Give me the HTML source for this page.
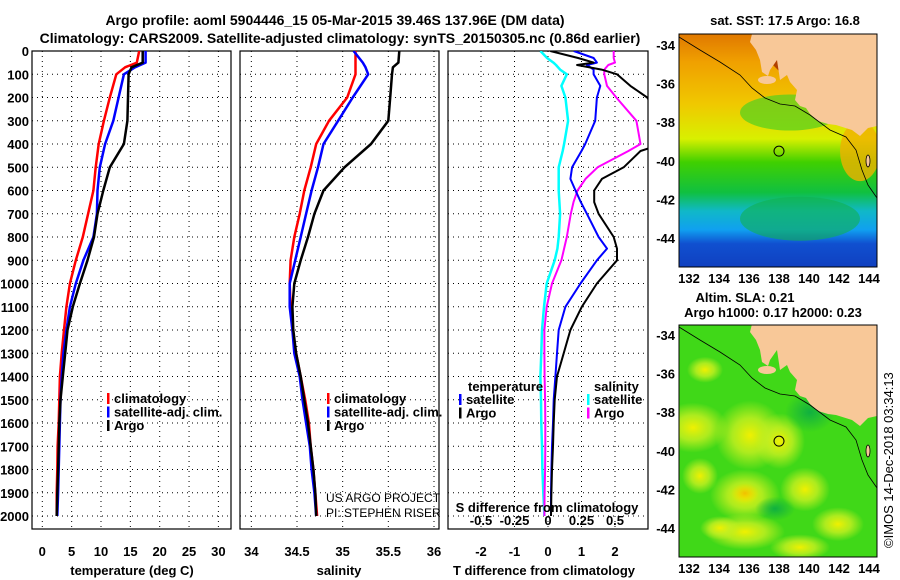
<!DOCTYPE html>
<html><head><meta charset="utf-8"><style>
body{margin:0;background:#fff}
svg{display:block;font-family:"Liberation Sans",sans-serif;font-weight:bold}
</style></head><body>
<svg id="c" width="900" height="580" viewBox="0 0 900 580">
<defs>
<clipPath id="cp1"><rect x="32" y="51" width="199" height="478"/></clipPath>
<clipPath id="cp2"><rect x="240" y="51" width="199" height="478"/></clipPath>
<clipPath id="cp3"><rect x="448" y="51" width="200" height="478"/></clipPath>
<clipPath id="m1"><rect x="679" y="34" width="198" height="233"/></clipPath>
<clipPath id="m2"><rect x="679" y="325" width="198" height="232"/></clipPath>
<linearGradient id="sst" x1="0" y1="0" x2="0" y2="1">
<stop offset="0" stop-color="#e07800"/><stop offset="0.12" stop-color="#f0a000"/>
<stop offset="0.3" stop-color="#f0c800"/><stop offset="0.45" stop-color="#d8f000"/>
<stop offset="0.55" stop-color="#40d000"/><stop offset="0.68" stop-color="#10c040"/>
<stop offset="0.76" stop-color="#10b8c8"/><stop offset="0.84" stop-color="#10a0f0"/>
<stop offset="0.9" stop-color="#1050d0"/><stop offset="1" stop-color="#1040c0"/>
</linearGradient>
<radialGradient id="yb"><stop offset="0" stop-color="#f0f000"/><stop offset="0.5" stop-color="#c8f020" stop-opacity="0.8"/><stop offset="1" stop-color="#c8f020" stop-opacity="0"/></radialGradient>
<radialGradient id="ob"><stop offset="0" stop-color="#f0c000"/><stop offset="1" stop-color="#f0e000" stop-opacity="0"/></radialGradient>
<radialGradient id="gb"><stop offset="0" stop-color="#10b040"/><stop offset="1" stop-color="#10b040" stop-opacity="0"/></radialGradient>
</defs>
<text x="335" y="25" text-anchor="middle" font-size="14">Argo profile: aoml 5904446_15 05-Mar-2015 39.46S 137.96E (DM data)</text>
<text x="340" y="43" text-anchor="middle" font-size="14">Climatology: CARS2009. Satellite-adjusted climatology: synTS_20150305.nc (0.86d earlier)</text>
<g id="g"></g>
</svg>
<script>
// depth levels (m) shared by all profiles
const depths=[0,50,70,100,200,300,400,500,600,700,800,900,1000,1100,1200,1300,1400,1500,1600,1700,1800,1900,2000];
// temperature (deg C)
const tClim=[16.5,16.1,14.1,12.6,11.5,10.5,9.6,9.1,8.7,7.8,6.9,5.7,4.7,4.1,3.7,3.3,3.0,2.9,2.8,2.6,2.55,2.45,2.45];
const tSat=[17.6,17.6,15.8,13.9,13.0,12.1,10.7,9.8,9.4,9.3,8.7,7.0,5.7,4.7,4.1,3.6,3.3,3.1,3.0,2.9,2.8,2.7,2.55];
const tArgo=[17.1,17.1,15.2,14.7,14.6,14.5,13.9,11.5,10.4,9.4,8.8,7.7,6.4,5.2,4.3,3.9,3.5,3.1,2.9,2.8,2.7,2.55,2.45];
// salinity
const sClim=[35.14,35.14,35.14,35.14,35.05,34.85,34.71,34.65,34.58,34.53,34.47,34.43,34.42,34.43,34.45,34.49,34.54,34.59,34.63,34.65,34.68,34.70,34.72];
const sSat=[35.12,35.22,35.25,35.28,35.11,34.95,34.79,34.73,34.66,34.60,34.54,34.48,34.42,34.42,34.45,34.47,34.53,34.56,34.60,34.64,34.66,34.69,34.71];
const sArgo=[35.62,35.61,35.55,35.54,35.52,35.50,35.31,35.02,34.79,34.69,34.62,34.54,34.47,34.45,34.46,34.49,34.54,34.58,34.62,34.65,34.68,34.70,34.71];
// differences from climatology (own depth grid)
const dDepths=[0,30,50,60,80,100,150,200,300,400,430,500,550,600,650,700,800,850,900,1000,1100,1200,1300,1400,1500,1600,1700,1800,1900,2000];
const dtSat=[0.77,1.36,1.46,1.16,1.36,1.36,1.56,1.46,1.41,1.11,1.0,0.72,0.67,0.82,0.98,1.16,1.51,1.76,1.46,0.97,0.52,0.32,0.27,0.22,0.17,0.15,0.12,0.1,0.09,0.09];
const dtArgo=[0.07,0.9,1.36,0.87,1.6,2.06,2.46,2.96,3.4,3.4,2.76,2.26,1.61,1.38,1.38,1.51,1.96,2.06,2.06,1.46,1.01,0.67,0.47,0.27,0.2,0.17,0.15,0.12,0.1,0.09];
const dsSat=[-0.057,-0.007,0.04,0.06,0.09,0.14,0.1,0.13,0.15,0.12,0.11,0.08,0.08,0.08,0.085,0.09,0.08,0.07,0.05,-0.01,-0.03,-0.045,-0.05,-0.057,-0.052,-0.05,-0.045,-0.042,-0.035,-0.027];
const dsArgo=[0.49,0.49,0.5,0.45,0.42,0.42,0.44,0.51,0.66,0.69,0.6,0.37,0.28,0.22,0.19,0.17,0.14,0.12,0.1,0.03,-0.01,-0.027,-0.027,-0.025,-0.022,-0.02,-0.02,-0.022,-0.025,-0.027];
const tTicks=[0,5,10,15,20,25,30];
const sTicks=[34,34.5,35,35.5,36];
const dtTicks=[-2,-1,0,1,2];
const dsTicks=[-0.5,-0.25,0,0.25,0.5];
const latTicks=[-34,-36,-38,-40,-42,-44];
const lonTicks=[132,134,136,138,140,142,144];

const NS='http://www.w3.org/2000/svg';
const G=document.getElementById('g');
function mk(tag,at,parent){const e=document.createElementNS(NS,tag);for(const k in at)e.setAttribute(k,at[k]);(parent||G).appendChild(e);return e;}
const yD=d=>51+d*0.2325;
const xT=t=>42.3+t*5.87;
const xS=s=>297+(s-34.5)*91.33;
const xDT=t=>548+t*33.5;
const xDS=s=>548+s*134;

function panel(x0,w,name){
  const p=mk('g',{});
  
  
  for(let d=100;d<=2000;d+=100){const l=mk('line',{x1:x0,x2:x0+w,y1:yD(d),y2:yD(d),stroke:'#000','stroke-width':1,'stroke-dasharray':'1 4'},p);
    }
  const r=mk('rect',{x:x0,y:51,width:w,height:478,fill:'none',stroke:'#000','stroke-width':1.2},p);
  
  return p;
}
function vgrid(p,ticks,fx){ticks.forEach(t=>{const x=fx(t);const l=mk('line',{x1:x,x2:x,y1:51,y2:529,stroke:'#000','stroke-dasharray':'1 4'},p);
  });}
function line(p,xs,ds,fx,col,name,clip,wd){
  const pts=xs.map((v,i)=>fx(v).toFixed(1)+','+yD(ds[i]).toFixed(1)).join(' ');
  const l=mk('polyline',{points:pts,fill:'none',stroke:col,'stroke-width':wd||2.5,'clip-path':'url(#'+clip+')','stroke-linejoin':'round'},p);
  
}
function txt(s,x,y,opt,p){const t=mk('text',Object.assign({x:x,y:y,'font-size':13},opt||{}),p);t.textContent=s;return t;}
function legend(p,x,y,items){items.forEach((it,i)=>{
  const b=mk('rect',{x:x,y:y+i*13.5-10,width:2.5,height:11,fill:it[1]},p);
  
  const t=txt(it[0],x+7,y+i*13.5,{},p);
  });}

// Panel 1
const p1=panel(32,199,'temperature-panel');
vgrid(p1,tTicks,xT);
line(p1,tClim,depths,xT,'#f00','temp-climatology-line','cp1');
line(p1,tSat,depths,xT,'#00f','temp-satellite-line','cp1');
line(p1,tArgo,depths,xT,'#000','temp-argo-line','cp1');
for(let d=0;d<=2000;d+=100){const t=txt(String(d),29,yD(d)+5,{'text-anchor':'end'},p1);
  }
tTicks.forEach(t=>{const e=txt(String(t),xT(t),556,{'text-anchor':'middle'},p1);});
let e=txt('temperature (deg C)',132,575,{'text-anchor':'middle'},p1);
legend(p1,107,403,[['climatology','#f00'],['satellite-adj. clim.','#00f'],['Argo','#000']]);

// Panel 2
const p2=panel(240,199,'salinity-panel');
vgrid(p2,sTicks,xS);
line(p2,sClim,depths,xS,'#f00','sal-climatology-line','cp2');
line(p2,sSat,depths,xS,'#00f','sal-satellite-line','cp2');
line(p2,sArgo,depths,xS,'#000','sal-argo-line','cp2');
sTicks.forEach(t=>{const e=txt(String(t),xS(t),556,{'text-anchor':'middle'},p2);});
e=txt('salinity',339,575,{'text-anchor':'middle'},p2);
legend(p2,327,403,[['climatology','#f00'],['satellite-adj. clim.','#00f'],['Argo','#000']]);
e=txt('US ARGO PROJECT',326,502,{'font-weight':'normal','font-size':12},p2);
e=txt('PI: STEPHEN RISER',326,517,{'font-weight':'normal','font-size':12},p2);

// Panel 3
const p3=panel(448,200,'difference-panel');
vgrid(p3,dtTicks,xDT);
line(p3,dsSat,dDepths,xDS,'#0ff','sdiff-satellite-line','cp3');
line(p3,dsArgo,dDepths,xDS,'#f0f','sdiff-argo-line','cp3',2);
line(p3,dtSat,dDepths,xDT,'#00f','tdiff-satellite-line','cp3',2);
line(p3,dtArgo,dDepths,xDT,'#000','tdiff-argo-line','cp3',2);
dtTicks.forEach(t=>{const e=txt(String(t),xDT(t),556,{'text-anchor':'middle'},p3);});
dsTicks.forEach(t=>{const e=txt(String(t),xDS(t),525,{'text-anchor':'middle'},p3);});
e=txt('S difference from climatology',547,512,{'text-anchor':'middle'},p3);
e=txt('T difference from climatology',544,575,{'text-anchor':'middle'},p3);
e=txt('temperature',468,391,{},p3);
legend(p3,459,404,[['satellite','#00f'],['Argo','#000']]);
e=txt('salinity',594,391,{},p3);
legend(p3,587,404,[['satellite','#0ff'],['Argo','#f0f']]);

// Maps
const xL=l=>689+(l-132)*15;
function map(y0,h,top,clip,name){
  const m=mk('g',{});
  
  const yLat=la=>top+(-34-la)*19.3;
  const inner=mk('g',{'clip-path':'url(#'+clip+')'},m);
  if(name==='sst-map'){
    mk('rect',{x:679,y:y0,width:198,height:h,fill:'url(#sst)'},inner);
    mk('ellipse',{cx:790,cy:yLat(-37.5),rx:50,ry:18,fill:'#50d020',opacity:0.7},inner);
    mk('ellipse',{cx:800,cy:yLat(-43),rx:60,ry:22,fill:'#10b050',opacity:0.6},inner);
    mk('ellipse',{cx:860,cy:yLat(-39.5),rx:20,ry:30,fill:'#f0b000',opacity:0.8},inner);
    mk('polygon',{points:'756,34 790,34 795,58 780,72 770,62 760,50',fill:'#b04000'},inner);
  } else {
    mk('rect',{x:679,y:y0,width:198,height:h,fill:'#40d818'},inner);
    [[693,-38.8,35,25],[750,-39.2,35,35],[780,-39.5,25,28],[745,-42.3,35,26],[745,-44.2,40,18],[805,-42,25,22],[838,-43.8,26,17],[705,-35.8,18,13],[700,-41.3,18,18],[800,-45,30,13],[720,-44,20,12]].forEach(b=>{
      mk('ellipse',{cx:b[0],cy:yLat(b[1]),rx:b[2],ry:b[3],fill:'url(#yb)'},inner);});
    mk('ellipse',{cx:745,cy:yLat(-42.2),rx:14,ry:10,fill:'url(#ob)'},inner);
    mk('ellipse',{cx:775,cy:yLat(-43),rx:20,ry:12,fill:'url(#gb)'},inner);
    mk('ellipse',{cx:810,cy:yLat(-38),rx:25,ry:20,fill:'url(#gb)'},inner);
  }
  const o=top-45;
  const land=mk('polygon',{points:[[752,34],[877,34],[877,126],[868,128],[860,136],[852,130],[836,125],[828,124],[818,121],[810,114],[806,108],[800,106],[795,100],[797,90],[790,82],[787,75],[780,80],[777,60],[770,70],[768,76],[762,72],[760,60],[756,50],[750,42]].map(p=>p[0]+','+(p[1]+o)).join(' '),fill:'#f8c898'},inner);
  
  mk('ellipse',{cx:767,cy:80+o,rx:9,ry:4,fill:'#f8c898'},inner);
  mk('ellipse',{cx:868,cy:161+o,rx:2,ry:6,fill:'#f8c898',stroke:'#000','stroke-width':0.8},inner);
  const bath=mk('polyline',{points:[[679,37],[700,50],[720,62],[740,75],[752,88],[765,98],[780,104],[795,106],[810,115],[830,130],[846,137],[856,150],[862,170],[868,185],[877,198]].map(p=>p[0]+','+(p[1]+o)).join(' '),fill:'none',stroke:'#000','stroke-width':0.8},inner);
  
  const c=mk('circle',{cx:xL(138),cy:yLat(-39.5),r:5,fill:'none',stroke:'#000','stroke-width':1},m);
  
  mk('rect',{x:679,y:y0,width:198,height:h,fill:'none',stroke:'#000'},m);
  latTicks.forEach(la=>{const t=txt(String(la),675,yLat(la)+5,{'text-anchor':'end'},m);});
  lonTicks.forEach(lo=>{const t=txt(String(lo),xL(lo),y0+h+16,{'text-anchor':'middle'},m);});
}
map(34,233,45,'m1','sst-map');
map(325,232,335,'m2','sla-map');
e=txt('sat. SST: 17.5 Argo: 16.8',785,25,{'text-anchor':'middle'});
e=txt('Altim. SLA: 0.21',745,302,{'text-anchor':'middle'});
e=txt('Argo h1000: 0.17 h2000: 0.23',773,317,{'text-anchor':'middle'});
e=txt('©IMOS 14-Dec-2018 03:34:13',0,0,{'font-weight':'normal','font-size':13,transform:'translate(893,548) rotate(-90)'});
</script>
</body></html>
